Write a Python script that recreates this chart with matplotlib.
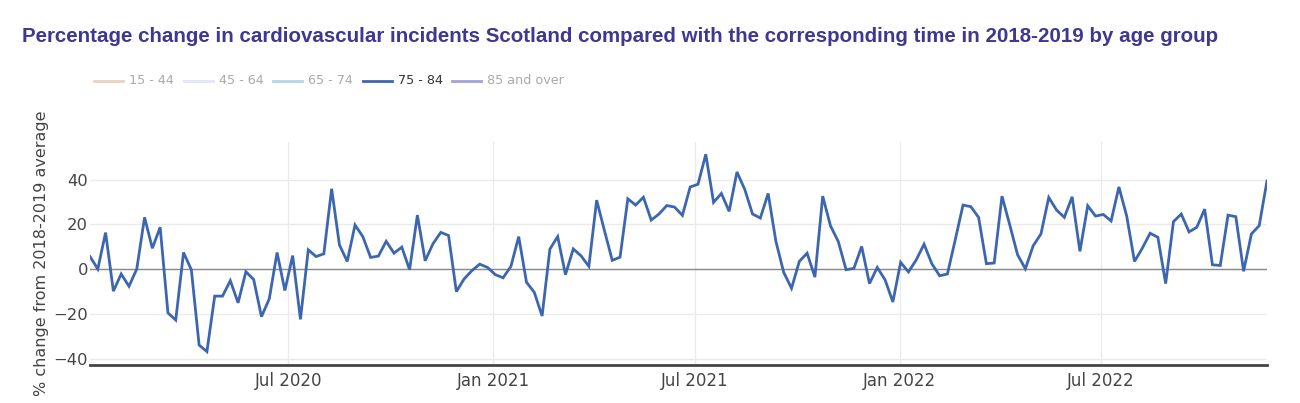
import matplotlib
matplotlib.use("Agg")
import matplotlib.pyplot as plt
import matplotlib.dates as mdates
from matplotlib.lines import Line2D
import pandas as pd
import numpy as np

# ---- data ----
start_date = "2020-01-05"
n_weeks = 152
values_75_84 = [
    5.6, 0.0, 16.3, -9.9, -2.2, -7.7, 0.0, 23.1, 9.3, 18.7,
    -19.6, -22.8, 7.4, -0.3, -34.0, -36.9, -12.1, -12.1, -5.2, -15.1,
    -1.2, -4.7, -21.3, -13.3, 7.4, -9.6, 6.0, -22.5, 8.6, 5.6,
    6.8, 35.9, 10.8, 3.4, 19.7, 14.5, 5.2, 5.8, 12.4, 7.1,
    9.8, -0.3, 24.1, 3.7, 11.3, 16.4, 15.0, -10.1, -4.4, -0.7,
    2.2, 0.7, -2.5, -3.9, 1.2, 14.5, -5.9, -10.4, -21.0, 8.9,
    14.5, -2.5, 9.0, 5.9, 1.2, 30.8, 17.2, 3.9, 5.3, 31.4,
    28.6, 32.1, 21.9, 24.6, 28.4, 27.7, 24.0, 36.7, 37.9, 51.3,
    29.8, 33.8, 25.8, 43.4, 35.6, 24.6, 22.8, 33.8, 12.3, -1.5,
    -8.6, 3.4, 7.1, -3.6, 32.6, 19.3, 12.3, -0.3, 0.3, 10.1,
    -6.5, 0.7, -4.8, -14.7, 3.0, -1.3, 4.1, 11.1, 2.4, -3.0,
    -2.2, 13.0, 28.6, 27.9, 23.1, 2.4, 2.7, 32.6, 19.7, 6.4,
    0.1, 10.4, 15.7, 32.0, 26.4, 23.1, 32.3, 7.9, 28.3, 23.7,
    24.4, 21.5, 36.7, 23.7, 3.4, 9.3, 16.0, 14.2, -6.5, 21.2,
    24.6, 16.6, 18.7, 26.8, 1.9, 1.6, 24.1, 23.4, -1.0, 15.7,
    19.4, 39.4,
]
legend_labels = ["15 - 44", "45 - 64", "65 - 74", "75 - 84", "85 and over"]
legend_colors = ["#ecd2c0", "#e2e5f3", "#b3d6ea", "#3d66b0", "#9ea3d8"]
legend_text_colors = ["#aaaaaa", "#aaaaaa", "#aaaaaa", "#333333", "#aaaaaa"]
y_ticks = [-40, -20, 0, 20, 40]
x_tick_dates = ["2020-07-01", "2021-01-01", "2021-07-01", "2022-01-01", "2022-07-01"]
x_tick_labels = ["Jul 2020", "Jan 2021", "Jul 2021", "Jan 2022", "Jul 2022"]

title = "Percentage change in cardiovascular incidents Scotland compared with the corresponding time in 2018-2019 by age group"
y_label = "% change from 2018-2019 average"

dates = pd.date_range(start_date, periods=n_weeks, freq="7D")

W, H = 1300, 403
fig = plt.figure(figsize=(W / 100, H / 100), dpi=100)
fig.patch.set_facecolor("white")

left, right, top, bottom = 90, 1267, 142, 365
ax = fig.add_axes([left / W, 1 - bottom / H, (right - left) / W, (bottom - top) / H])

ax.plot(dates, values_75_84, color=legend_colors[3], lw=2.0, zorder=3, solid_joinstyle="miter")

ax.set_xlim(dates[0], dates[-1])
ax.set_ylim(-42.9, 56.8)

ax.set_yticks(y_ticks)
ax.set_yticklabels(["\u221240", "\u221220", "0", "20", "40"])
ax.set_xticks(pd.to_datetime(x_tick_dates))
ax.set_xticklabels(x_tick_labels)

ax.grid(True, color="#ebebeb", lw=1.0, zorder=0)
ax.axhline(0, color="#8a8a8a", lw=1.0, zorder=2)
ax.tick_params(axis="both", length=0, colors="#444444")
ax.tick_params(axis="x", pad=5, labelsize=12)
ax.tick_params(axis="y", pad=1.5, labelsize=11.8)
for s in ["top", "right", "left"]:
    ax.spines[s].set_visible(False)
ax.spines["bottom"].set_color("#444444")
ax.spines["bottom"].set_linewidth(2.0)

ax.set_ylabel(y_label, fontsize=11.5, color="#444444", labelpad=3)

fig.text(22 / W, 1 - 37 / H, title, fontsize=14.8, fontweight="bold",
         color="#3e3890", family="Liberation Sans", va="center", ha="left")

# legend drawn manually in figure pixel coordinates
leg_line_x = [94, 184, 273, 363, 452]
leg_y = 1 - 81 / H
for lx, lab, c, tc in zip(leg_line_x, legend_labels, legend_colors, legend_text_colors):
    fig.add_artist(Line2D([lx / W, (lx + 29) / W], [leg_y, leg_y], color=c, lw=2.0))
    fig.text((lx + 35) / W, leg_y, lab, fontsize=9.2, color=tc, va="center", ha="left")

fig.savefig("out.png", dpi=100, facecolor="white")
